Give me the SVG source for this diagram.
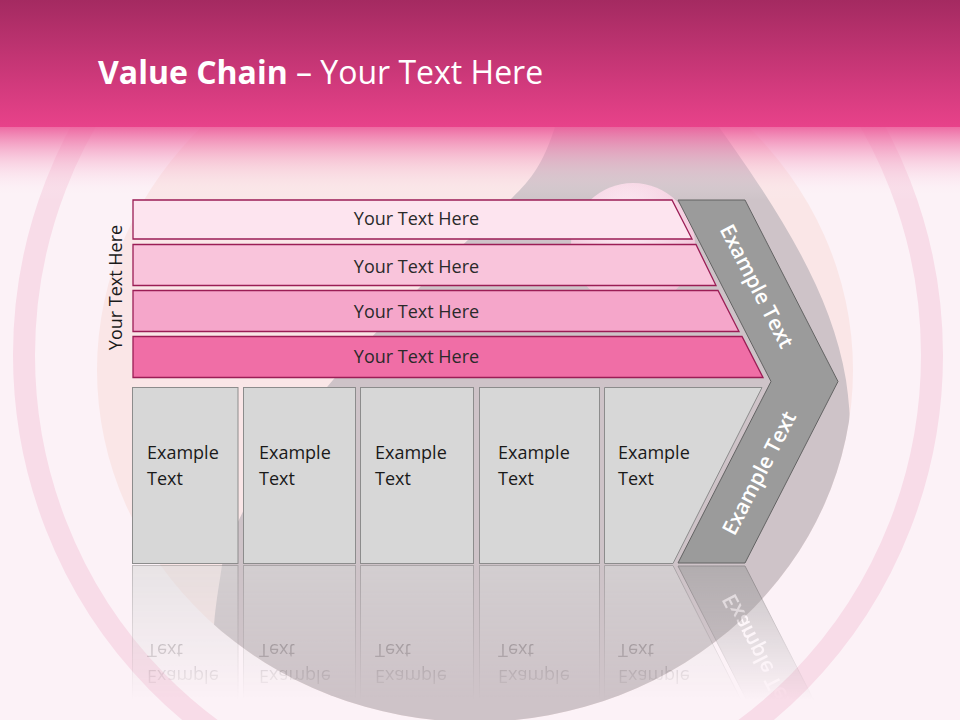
<svg xmlns="http://www.w3.org/2000/svg" xmlns:xlink="http://www.w3.org/1999/xlink" width="960" height="720" viewBox="0 0 960 720">
<defs>
<style>
.bar{stroke:#9B1D55;stroke-width:1.3}
.box{fill:#D7D7D7;stroke:#8C8C8C;stroke-width:1}
.bt{font-family:"Open Sans","Liberation Sans",sans-serif;font-size:18px;fill:#2A2A2A;text-anchor:middle}
.xt{font-family:"Open Sans","Liberation Sans",sans-serif;font-size:18px;fill:#1A1A1A}
.ct{font-family:"Open Sans","Liberation Sans",sans-serif;font-size:21px;font-weight:600;fill:#FFFFFF;text-anchor:middle}
</style>
<linearGradient id="hdr" x1="0" y1="0" x2="0" y2="127" gradientUnits="userSpaceOnUse">
<stop offset="0" stop-color="#A42A61"/>
<stop offset="1" stop-color="#E8428A"/>
</linearGradient>
<linearGradient id="hfade" x1="0" y1="127" x2="0" y2="200" gradientUnits="userSpaceOnUse">
<stop offset="0" stop-color="#EC5C9A" stop-opacity="0.9"/>
<stop offset="0.5" stop-color="#F5A9C8" stop-opacity="0.4"/>
<stop offset="1" stop-color="#FFFFFF" stop-opacity="0"/>
</linearGradient>
<radialGradient id="sph" cx="0.45" cy="0.3" r="0.7">
<stop offset="0" stop-color="#FDEEF5"/>
<stop offset="1" stop-color="#F1C0D6"/>
</radialGradient>
<clipPath id="ellClip"><ellipse cx="475" cy="370" rx="378" ry="352"/></clipPath>
<linearGradient id="rfade" x1="0" y1="565" x2="0" y2="700" gradientUnits="userSpaceOnUse">
<stop offset="0" stop-color="#FFFFFF" stop-opacity="0.55"/>
<stop offset="1" stop-color="#FFFFFF" stop-opacity="0"/>
</linearGradient>
<mask id="rmask"><rect x="0" y="565" width="960" height="155" fill="url(#rfade)"/></mask>
</defs>

<!-- background -->
<rect x="0" y="0" width="960" height="720" fill="#FCF2F7"/>
<ellipse cx="478" cy="355" rx="454" ry="462" fill="none" stroke="#F8DCE8" stroke-width="22"/>
<ellipse cx="475" cy="370" rx="378" ry="352" fill="#FAE6E7"/>
<path clip-path="url(#ellClip)" fill="#CEC3C8" d="M560,110 L707,110 C760,185 830,280 846,380 C852,420 852,460 845,500 L845,760 L212,760 L214,625 C216,600 220,580 222,565 C240,500 290,430 333,380 C360,348 390,318 420,287 C450,255 480,230 513,197 C530,180 545,165 560,110 Z"/>
<circle cx="633" cy="245" r="62" fill="url(#sph)"/>
<rect x="0" y="0" width="960" height="127" fill="url(#hdr)"/>
<rect x="0" y="127" width="960" height="73" fill="url(#hfade)"/>

<text x="98" y="84" font-family="'Open Sans','Liberation Sans',sans-serif" font-size="32" fill="#FFFFFF"><tspan font-weight="bold">Value Chain</tspan> – Your Text Here</text>

<!-- reflection -->
<g mask="url(#rmask)">
<g transform="translate(0,1129) scale(1,-1)">
<use xlink:href="#boxes"/>
<use xlink:href="#chevron"/>
</g>
</g>

<g id="bars">
<g id="bar1"><polygon class="bar" fill="#FDE4EF" points="133,200 672,200 692,239 133,239"/><text class="bt" x="416.5" y="225">Your Text Here</text></g>
<g id="bar2"><polygon class="bar" fill="#F9C4DB" points="133,244.5 696,244.5 716,285.5 133,285.5"/><text class="bt" x="416.5" y="272.5">Your Text Here</text></g>
<g id="bar3"><polygon class="bar" fill="#F5A6CA" points="133,290.5 718,290.5 739,331.5 133,331.5"/><text class="bt" x="416.5" y="317.5">Your Text Here</text></g>
<g id="bar4"><polygon class="bar" fill="#F06EA6" points="133,336.5 742,336.5 763,377.5 133,377.5"/><text class="bt" x="416.5" y="362.5">Your Text Here</text></g>
</g>

<g id="side-label"><text class="xt" transform="translate(122,287.5) rotate(-90)" text-anchor="middle" fill="#000000">Your Text Here</text></g>

<g id="boxes">
<g id="box1"><rect class="box" x="132.5" y="387.5" width="105.5" height="176"/><text class="xt" x="147" y="459">Example</text><text class="xt" x="147" y="485">Text</text></g>
<g id="box2"><rect class="box" x="243.5" y="387.5" width="112" height="176"/><text class="xt" x="259" y="459">Example</text><text class="xt" x="259" y="485">Text</text></g>
<g id="box3"><rect class="box" x="360.5" y="387.5" width="113" height="176"/><text class="xt" x="375" y="459">Example</text><text class="xt" x="375" y="485">Text</text></g>
<g id="box4"><rect class="box" x="479.5" y="387.5" width="120" height="176"/><text class="xt" x="498" y="459">Example</text><text class="xt" x="498" y="485">Text</text></g>
<g id="box5"><polygon class="box" points="604.5,387.5 762,387.5 673,563.5 604.5,563.5"/><text class="xt" x="618" y="459">Example</text><text class="xt" x="618" y="485">Text</text></g>
</g>

<g id="chevron">
<polygon fill="#9B9B9B" stroke="#636363" stroke-width="1" points="678,200 745,200 838,381.5 745,563 678,563 771,381.5"/>
<text class="ct" transform="translate(757,286) rotate(62.7)" dy="0.36em">Example Text</text>
<text class="ct" transform="translate(759,473) rotate(-62.7)" dy="0.36em">Example Text</text>
</g>

<g id="connectors"/>
</svg>
